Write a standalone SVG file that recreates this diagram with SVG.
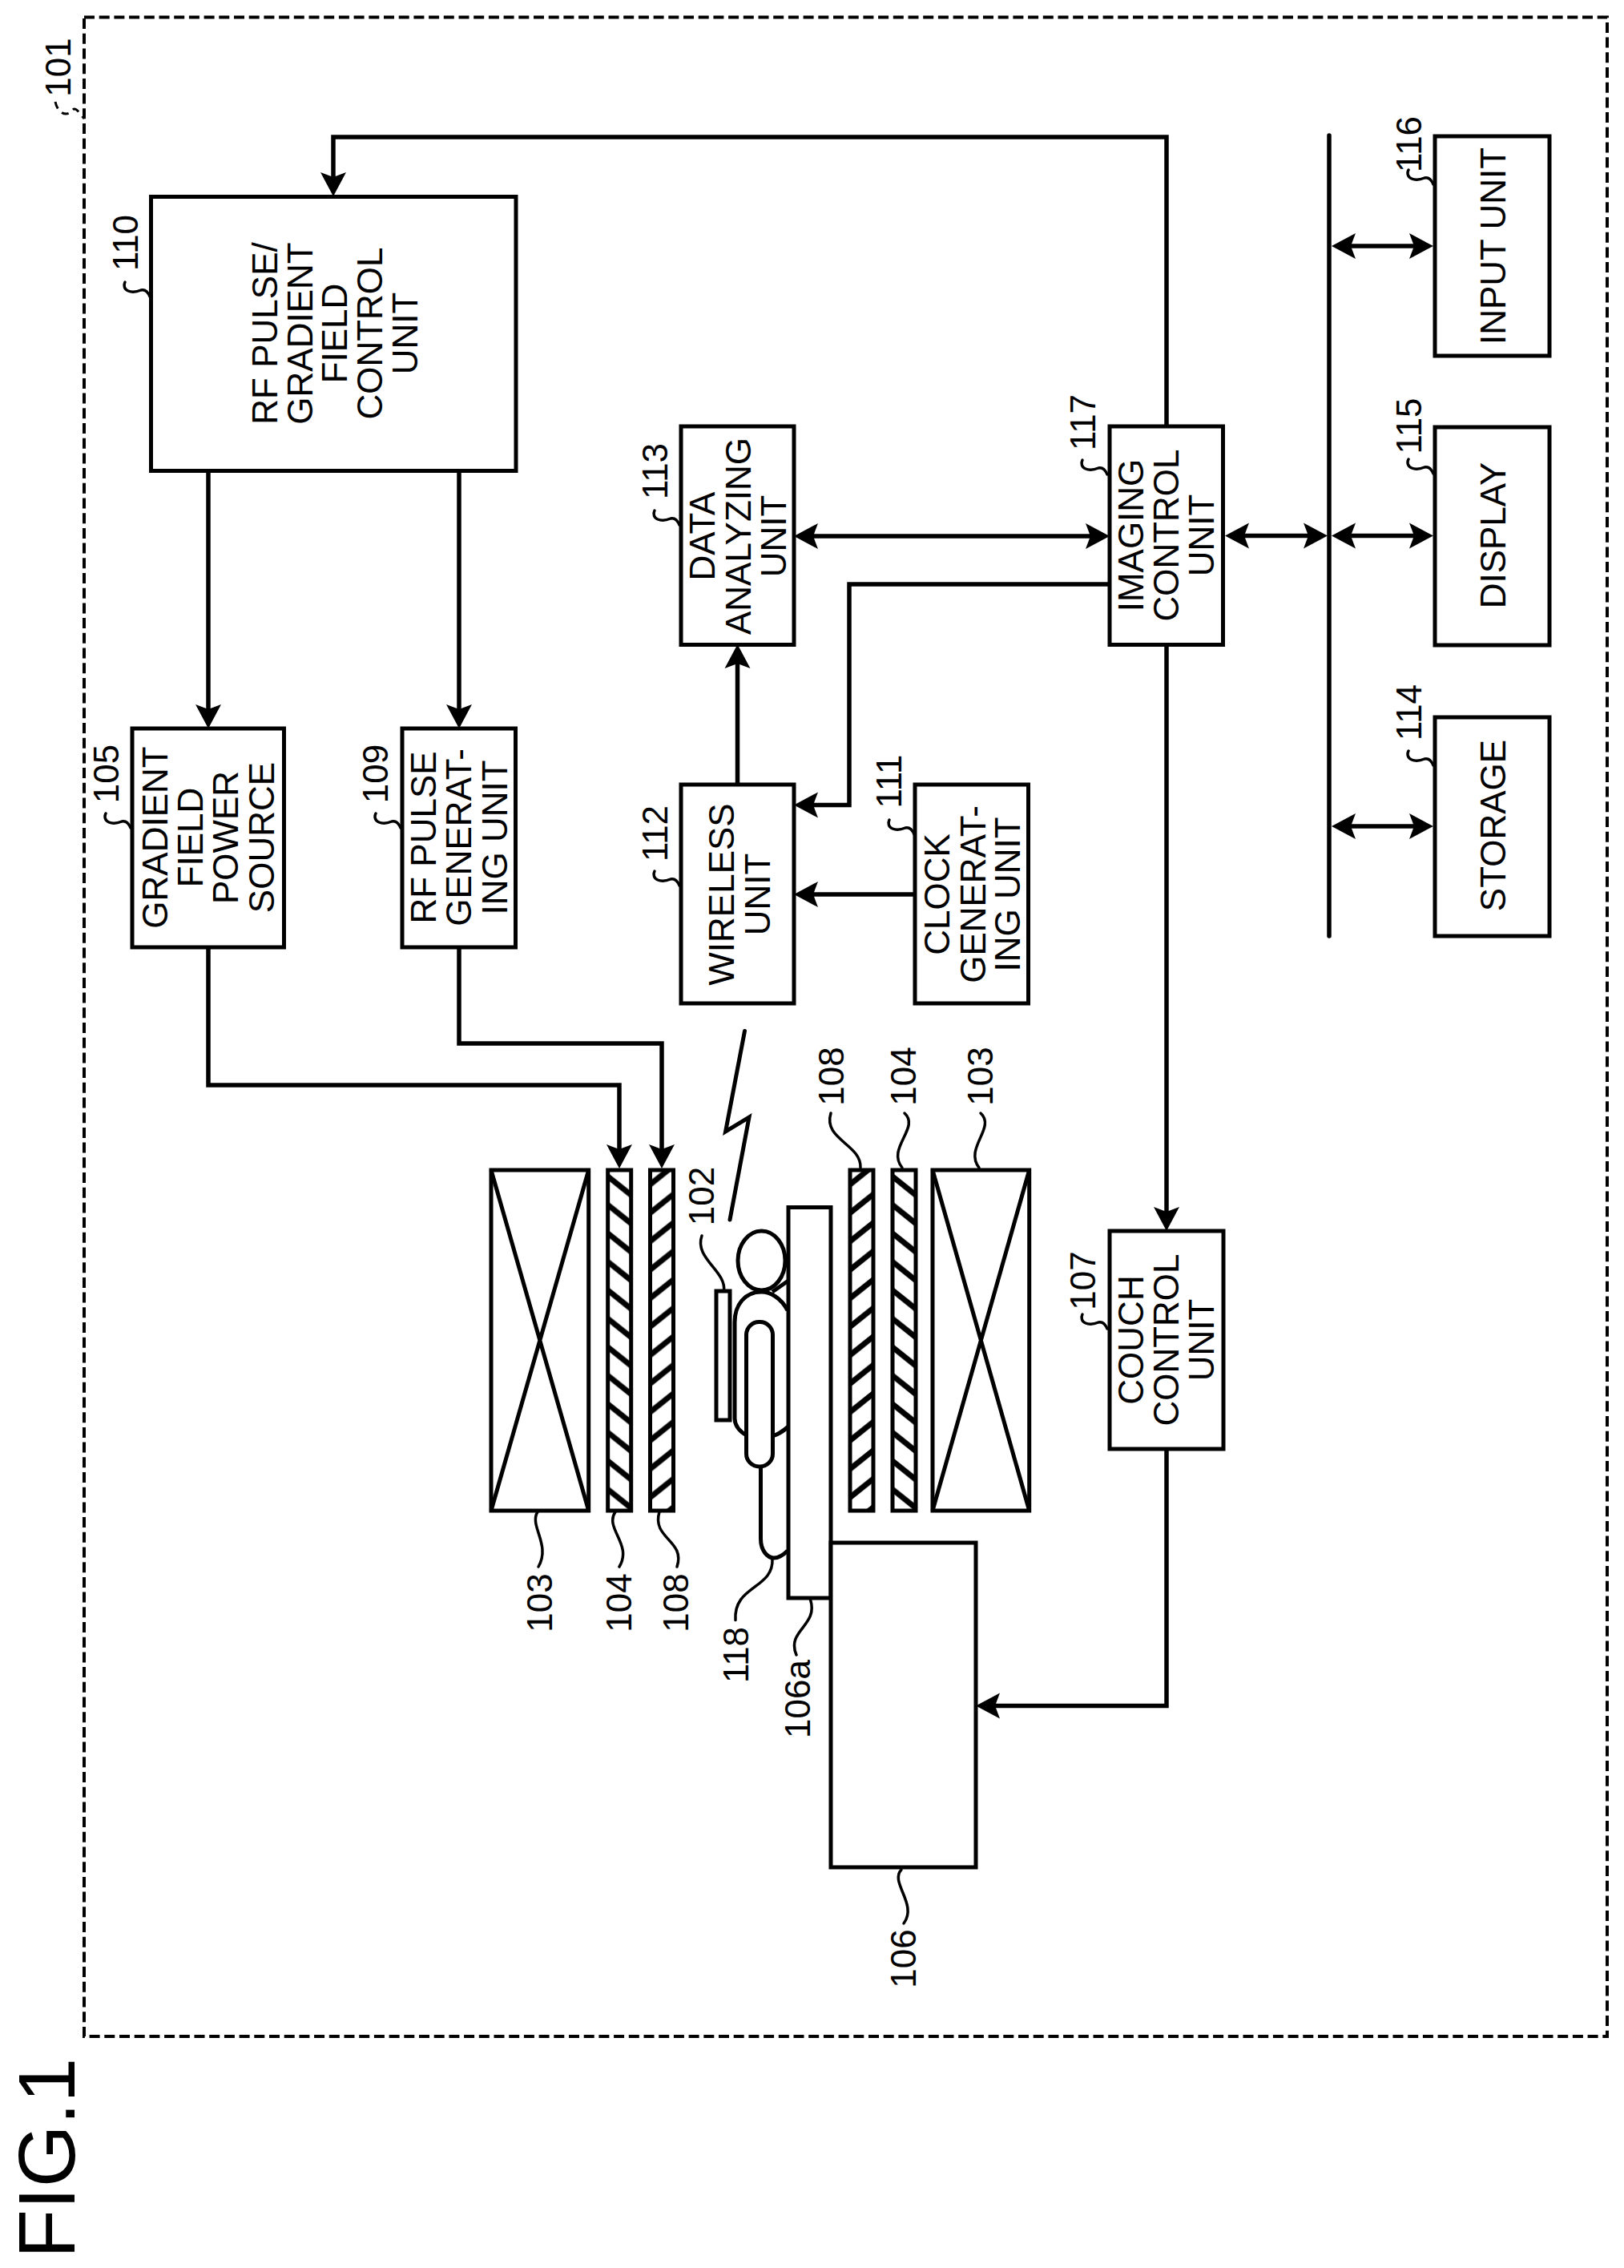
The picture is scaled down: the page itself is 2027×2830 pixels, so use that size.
<svg xmlns="http://www.w3.org/2000/svg" width="2027" height="2830" viewBox="0 0 2027 2830">
<style>
text{font-family:"Liberation Sans",Arial,sans-serif;font-size:44px;fill:#000;text-anchor:middle}
.fig{font-size:100px;text-anchor:start}
.box,.bar{fill:#fff;stroke:#000;stroke-width:5;stroke-linejoin:miter}
.wire{fill:none;stroke:#000;stroke-width:5.5;stroke-linejoin:miter}
.arr{marker-end:url(#arrow)}
.dbl{marker-start:url(#arrow);marker-end:url(#arrow)}
.lead{fill:none;stroke:#000;stroke-width:3.5;stroke-linecap:round}
.shape{fill:none;stroke:#000;stroke-width:5}
.solid{fill:#fff;stroke:#000;stroke-width:5}
.hA{fill:url(#hatchA);stroke:#000;stroke-width:5}
.hB{fill:url(#hatchB);stroke:#000;stroke-width:5}
</style>
<defs>
<marker id="arrow" markerUnits="userSpaceOnUse" markerWidth="32" markerHeight="34" viewBox="0 0 32 34" refX="10" refY="17" orient="auto-start-reverse"><path d="M30,17 L0,1 L6,17 L0,33 Z" fill="#000"/></marker>
<pattern id="hatchA" patternUnits="userSpaceOnUse" x="0" y="3" width="30" height="35.5"><rect width="30" height="35.5" fill="#fff"/><path d="M-3,2.6 L33,31.4" stroke="#000" stroke-width="7"/></pattern>
<pattern id="hatchB" patternUnits="userSpaceOnUse" x="0" y="-11" width="30" height="35.5"><rect width="30" height="35.5" fill="#fff"/><path d="M-3,31.4 L33,2.6" stroke="#000" stroke-width="7"/></pattern>
<path id="hook" class="lead" d="M0,0 C-3,-7 -7,-9 -11,-8 C-16,-6 -22,-5 -27,-7 C-32,-9 -33,-14 -31,-18"/>
</defs>
<rect id="frame-101" x="105" y="21.5" width="1901" height="2519.5" fill="none" stroke="#000" stroke-width="4" stroke-dasharray="13 5.7"/>
<g id="label-101"><path d="M69,127 C72,142 84,146 90,138 C94,132 98,140 105,148" fill="none" stroke="#000" stroke-width="3" stroke-dasharray="9 7"/><text transform="translate(87.7,84) rotate(-90)">101</text></g>
<text id="fig-title" class="fig" transform="translate(93,2818) rotate(-90)">FIG.1</text>

<g id="connectors">
<path class="wire arr" d="M1456,532 V171 H416 V225"/>
<path class="wire arr" d="M260,587 V889"/>
<path class="wire arr" d="M573,587 V889"/>
<path class="wire arr" d="M260,1182 V1354 H773 V1438"/>
<path class="wire arr" d="M573,1182 V1302 H826 V1438"/>
<path class="wire dbl" d="M1011,669 H1365"/>
<path class="wire arr" d="M1385,729 H1060 V1004.5 H1011"/>
<path class="wire arr" d="M920.5,979 V824"/>
<path class="wire arr" d="M1142,1116 H1011"/>
<path class="wire arr" d="M1456,804 V1516"/>
<path class="wire arr" d="M1456,1808 V2128.5 H1238"/>
<path class="wire dbl" d="M1549,668.5 H1637"/>
<path class="wire dbl" d="M1682,307 H1769"/>
<path class="wire dbl" d="M1682,668.5 H1769"/>
<path class="wire dbl" d="M1682,1031 H1769"/>
<path id="bus" d="M1659,169 V1168" fill="none" stroke="#000" stroke-width="5.5" stroke-linecap="round"/>
<path id="wireless-link" d="M929.5,1286.5 L905.6,1412 L935,1394 L911,1522" fill="none" stroke="#000" stroke-width="5" stroke-linecap="round" stroke-linejoin="miter"/>
</g>

<g id="node-110"><rect class="box" x="188.5" y="245.5" width="455.5" height="342"/>
<text transform="translate(345.7,416) rotate(-90)">RF PULSE/</text><text transform="translate(390,416) rotate(-90)">GRADIENT</text><text transform="translate(433,416) rotate(-90)">FIELD</text><text transform="translate(477,416) rotate(-90)">CONTROL</text><text transform="translate(521,416) rotate(-90)">UNIT</text>
<use href="#hook" x="187" y="370"/><text transform="translate(171.6,303) rotate(-90)">110</text></g>

<g id="node-105"><rect class="box" x="165" y="909" width="189.5" height="273"/>
<text transform="translate(209,1045) rotate(-90)">GRADIENT</text><text transform="translate(253,1045) rotate(-90)">FIELD</text><text transform="translate(297,1045) rotate(-90)">POWER</text><text transform="translate(342,1045) rotate(-90)">SOURCE</text>
<use href="#hook" x="163" y="1033"/><text transform="translate(148,965.5) rotate(-90)">105</text></g>

<g id="node-109"><rect class="box" x="502" y="909" width="141.5" height="273"/>
<text transform="translate(544,1045) rotate(-90)">RF PULSE</text><text transform="translate(588,1045) rotate(-90)">GENERAT-</text><text transform="translate(633,1045) rotate(-90)">ING UNIT</text>
<use href="#hook" x="500" y="1033"/><text transform="translate(484,965.5) rotate(-90)">109</text></g>

<g id="node-113"><rect class="box" x="850" y="532" width="141" height="272.5"/>
<text transform="translate(892,669) rotate(-90)">DATA</text><text transform="translate(937,669) rotate(-90)">ANALYZING</text><text transform="translate(981,669) rotate(-90)">UNIT</text>
<use href="#hook" x="848" y="655"/><text transform="translate(833,588) rotate(-90)">113</text></g>

<g id="node-117"><rect class="box" x="1385" y="532" width="141.5" height="272.5"/>
<text transform="translate(1426.5,668) rotate(-90)">IMAGING</text><text transform="translate(1471,668) rotate(-90)">CONTROL</text><text transform="translate(1515,668) rotate(-90)">UNIT</text>
<use href="#hook" x="1382" y="592"/><text transform="translate(1367,527) rotate(-90)">117</text></g>

<g id="node-112"><rect class="box" x="850" y="979" width="141" height="273"/>
<text transform="translate(916,1116) rotate(-90)">WIRELESS</text><text transform="translate(961,1116) rotate(-90)">UNIT</text>
<use href="#hook" x="848" y="1105"/><text transform="translate(833,1040) rotate(-90)">112</text></g>

<g id="node-111"><rect class="box" x="1142" y="979" width="141.5" height="273"/>
<text transform="translate(1185,1116) rotate(-90)">CLOCK</text><text transform="translate(1229.5,1116) rotate(-90)">GENERAT-</text><text transform="translate(1273,1116) rotate(-90)">ING UNIT</text>
<use href="#hook" x="1141" y="1041"/><text transform="translate(1125,975) rotate(-90)">111</text></g>

<g id="node-116"><rect class="box" x="1791" y="170" width="143" height="274"/>
<text transform="translate(1879,307) rotate(-90)">INPUT UNIT</text>
<use href="#hook" x="1789" y="230"/><text transform="translate(1774,180) rotate(-90)">116</text></g>

<g id="node-115"><rect class="box" x="1791" y="533" width="143" height="272"/>
<text transform="translate(1879,668) rotate(-90)">DISPLAY</text>
<use href="#hook" x="1789" y="591"/><text transform="translate(1774,531.5) rotate(-90)">115</text></g>

<g id="node-114"><rect class="box" x="1791" y="895" width="143" height="273"/>
<text transform="translate(1879,1030) rotate(-90)">STORAGE</text>
<use href="#hook" x="1789" y="955"/><text transform="translate(1774,889) rotate(-90)">114</text></g>

<g id="node-107"><rect class="box" x="1385" y="1536" width="142" height="272"/>
<text transform="translate(1426.7,1672) rotate(-90)">COUCH</text><text transform="translate(1471,1672) rotate(-90)">CONTROL</text><text transform="translate(1515,1672) rotate(-90)">UNIT</text>
<use href="#hook" x="1382" y="1658"/><text transform="translate(1366.7,1598) rotate(-90)">107</text></g>

<g id="coil-103-left"><rect class="solid" x="613" y="1460" width="121.7" height="425"/><path class="shape" d="M613,1460 L734.7,1885 M734.7,1460 L613,1885"/>
<path class="lead" d="M671,1886.5 C660,1904 688,1927 672,1955"/><text transform="translate(689,2000) rotate(-90)">103</text></g>
<g id="coil-104-left"><rect class="hA" transform="translate(758.7,1460)" width="29" height="425"/>
<path class="lead" d="M768,1886.5 C754,1907 790,1927 773,1955"/><text transform="translate(788,2000) rotate(-90)">104</text></g>
<g id="coil-108-left"><rect class="hB" transform="translate(811.5,1460)" width="29" height="425"/>
<path class="lead" d="M823,1886.5 C813,1920 856,1922 845,1955"/><text transform="translate(858.7,2000) rotate(-90)">108</text></g>
<g id="coil-108-right"><rect class="hB" transform="translate(1061,1460)" width="29" height="425"/>
<path class="lead" d="M1037,1389 C1027,1422 1075,1427.5 1074,1457"/><text transform="translate(1052.7,1343) rotate(-90)">108</text></g>
<g id="coil-104-right"><rect class="hA" transform="translate(1114,1460)" width="29" height="425"/>
<path class="lead" d="M1129,1389 C1149,1407 1106,1432.6 1126,1457"/><text transform="translate(1143,1343) rotate(-90)">104</text></g>
<g id="coil-103-right"><rect class="solid" x="1164" y="1460" width="120.7" height="425"/><path class="shape" d="M1164,1460 L1284.7,1885 M1284.7,1460 L1164,1885"/>
<path class="lead" d="M1224,1389 C1243.6,1407 1203,1432.6 1222,1457"/><text transform="translate(1239,1343) rotate(-90)">103</text></g>

<g id="subject-118">
<path class="shape" d="M983,1635 C975,1620 962,1612 950,1612 C930,1612 917,1628 917,1650 V1770 C917,1780 925,1788 934,1792 M964,1792 C972,1790 977,1786 984,1780 M964,1612 L984,1598"/>
<ellipse class="solid" cx="950.5" cy="1573" rx="29.5" ry="37"/>
<rect class="solid" x="931.5" y="1649.5" width="33" height="180.5" rx="16" ry="16"/>
<path class="shape" d="M949.5,1830 V1920 C949.5,1935 958,1944 966,1944 C972,1944 977,1941 983,1935"/>
<path class="lead" d="M964,1945 C966,1983 915,1978 918,2021.6"/><text transform="translate(934,2065) rotate(-90)">118</text></g>

<g id="coil-102"><rect class="solid" x="894" y="1611" width="17" height="161"/>
<path class="lead" d="M876,1542 C866,1570 907,1586 903.5,1611"/><text transform="translate(891,1492.6) rotate(-90)">102</text></g>

<g id="node-106a"><rect class="box" x="984" y="1506.5" width="53" height="487.5"/>
<path class="lead" d="M1011.5,1996 C1022,2029 981,2034 994,2065"/><text transform="translate(1010.5,2120) rotate(-90)">106a</text></g>

<g id="node-106"><rect class="box" x="1037" y="1925" width="181" height="405"/>
<path class="lead" d="M1125,2333 C1110,2349 1146,2376 1128,2400"/><text transform="translate(1143,2444) rotate(-90)">106</text></g>
</svg>
